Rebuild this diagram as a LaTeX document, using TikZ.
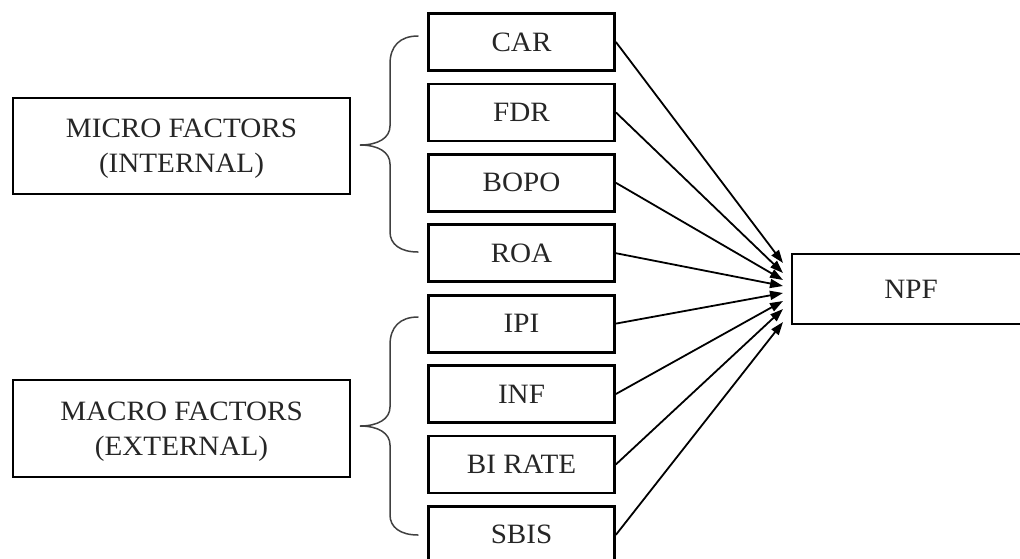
\documentclass[tikz,border=0pt]{standalone}
\usepackage{fontspec}
\setmainfont{Liberation Serif}[FakeStretch=1.04]
\usetikzlibrary{arrows.meta}
\newcommand\labelfont{\fontsize{28}{35}\selectfont}
\begin{document}
\begin{tikzpicture}[x=1pt,y=-1pt,
  box/.style={draw=black,line width=2.8pt,rectangle,inner sep=0pt,
    font=\labelfont,text=black!85,align=center},
  factor/.style={box,minimum width=186pt,minimum height=57pt},
  group/.style={box,minimum width=337pt,minimum height=96pt,text depth=0pt},
  link/.style={line width=1.8pt,-{Triangle[length=13pt,width=9pt]}},
  bracket/.style={line width=1.5pt,draw=black!75,line cap=round}]
\useasboundingbox (0,0) rectangle (1020,558);
\clip (0,0) rectangle (1020,558);

% group boxes
\node[group] (micro) at (181.5,146) {MICRO FACTORS\\(INTERNAL)};
\node[group,minimum height=97pt] (macro) at (181.5,428.5) {MACRO FACTORS\\(EXTERNAL)};

% individual factors
\node[factor] (car)  at (521.5,42)    {CAR};
\node[factor] (fdr)  at (521.5,112.4) {FDR};
\node[factor] (bopo) at (521.5,182.8) {BOPO};
\node[factor] (roa)  at (521.5,253.2) {ROA};
\node[factor] (ipi)  at (521.5,323.6) {IPI};
\node[factor] (inf)  at (521.5,394)   {INF};
\node[factor] (bir)  at (521.5,464.4) {BI RATE};
\node[factor] (sbis) at (521.5,534.8) {SBIS};

% dependent variable
\node[box,minimum width=238pt,minimum height=70pt] (npf) at (911,289) {NPF};

% curly braces grouping the factors
\draw[bracket] (418,36) .. controls (400,36) and (390,46) .. (390,64)
  -- (390,126) .. controls (390,138) and (378,145) .. (360,145)
  .. controls (378,145) and (390,152) .. (390,164)
  -- (390,232) .. controls (390,244) and (400,252) .. (418,252);
\draw[bracket] (418,317) .. controls (400,317) and (390,327) .. (390,345)
  -- (390,407) .. controls (390,419) and (378,426) .. (360,426)
  .. controls (378,426) and (390,433) .. (390,445)
  -- (390,515) .. controls (390,527) and (400,535) .. (418,535);

% arrow ends next to NPF
\coordinate (t1) at (783,263);
\coordinate (t2) at (783,273);
\coordinate (t3) at (783,280);
\coordinate (t4) at (783,286);
\coordinate (t5) at (783,293);
\coordinate (t6) at (783,301);
\coordinate (t7) at (783,309);
\coordinate (t8) at (783,322);

\draw[link] (car.east)  -- (t1);
\draw[link] (fdr.east)  -- (t2);
\draw[link] (bopo.east) -- (t3);
\draw[link] (roa.east)  -- (t4);
\draw[link] (ipi.east)  -- (t5);
\draw[link] (inf.east)  -- (t6);
\draw[link] (bir.east)  -- (t7);
\draw[link] (sbis.east) -- (t8);
\end{tikzpicture}
\end{document}
